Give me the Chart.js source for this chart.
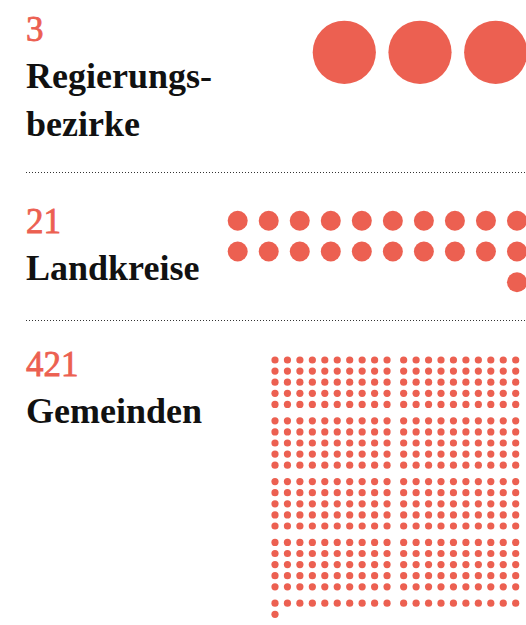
<!DOCTYPE html>
<html>
<head>
<meta charset="utf-8">
<script src="https://cdn.jsdelivr.net/npm/chart.js@4/dist/chart.umd.min.js"></script>
<style>
  html, body { margin: 0; padding: 0; background: #fff; }
  #wrap { position: relative; width: 526px; height: 625px; overflow: hidden; }
  canvas { position: absolute; left: 0; }
  .num { position: absolute; left: 26px; font-family: "Liberation Serif", "Times New Roman", serif; font-size: 35px; line-height: 35px; color: #ec6051; white-space: nowrap; -webkit-text-stroke: 0.8px #ec6051; }
  .lab { position: absolute; left: 26px; font-family: "Liberation Serif", "Times New Roman", serif; font-weight: bold; font-size: 36px; line-height: 48px; color: #111; white-space: pre; }
  .sep { position: absolute; left: 26px; width: 500px; height: 1px; background-image: linear-gradient(to right, #333 1px, transparent 1px); background-size: 3px 1px; }
</style>
</head>
<body>
<div id="wrap">
  <div class="num" id="n0" style="top:12px"></div>
  <div class="lab" id="l0" style="top:52px"></div>
  <div class="sep" style="top:172px"></div>
  <div class="num" id="n1" style="top:204px"></div>
  <div class="lab" id="l1" style="top:244px"></div>
  <div class="sep" style="top:320px"></div>
  <div class="num" id="n2" style="top:347px"></div>
  <div class="lab" id="l2" style="top:387px"></div>
  <canvas id="c0" width="526" height="110" style="top:0px"></canvas>
  <canvas id="c1" width="526" height="120" style="top:190px"></canvas>
  <canvas id="c2" width="526" height="285" style="top:340px"></canvas>
</div>
<script>
// ---- data ----
const counts = [3, 21, 421];
const labels = ["Regierungs-\nbezirke", "Landkreise", "Gemeinden"];
const dotsPerRow = [3, 10, 20];
const colsPerGroup = [3, 10, 10];
const rowsPerGroup = [1, 5, 5];
const lastRowAlign = ["left", "right", "left"];
const dotColor = "#ec6051";

// ---- layout (pixels) ----
const layout = [
  { x0: 344.3, ux: 75.7, y0: 52.3, uy: 75.7, r: 31.6, gx: 0, gy: 0 },
  { x0: 237.7, ux: 31.03, y0: 30.7, uy: 30.8, r: 10, gx: 0, gy: 0 },
  { x0: 275, ux: 12.45, y0: 20, uy: 11.1, r: 3.6, gx: 4.15, gy: 5.3 }
];

counts.forEach((n, k) => {
  document.getElementById('n' + k).textContent = String(n);
  document.getElementById('l' + k).textContent = labels[k];
});

function buildPoints(k) {
  const L = layout[k];
  const pts = [];
  const per = dotsPerRow[k];
  const fullRows = Math.floor(counts[k] / per);
  const rest = counts[k] % per;
  for (let i = 0; i < counts[k]; i++) {
    let c = i % per;
    const r = Math.floor(i / per);
    if (r === fullRows && lastRowAlign[k] === "right") c += per - rest;
    pts.push({
      x: c + (L.gx / L.ux) * Math.floor(c / colsPerGroup[k]),
      y: r + (L.gy / L.uy) * Math.floor(r / rowsPerGroup[k])
    });
  }
  return pts;
}

counts.forEach((n, k) => {
  const cv = document.getElementById('c' + k);
  const L = layout[k];
  const W = cv.width, H = cv.height;
  const xmin = -L.x0 / L.ux, xmax = xmin + W / L.ux;
  const ymin = -L.y0 / L.uy, ymax = ymin + H / L.uy;
  new Chart(cv, {
    type: 'scatter',
    data: {
      datasets: [{
        data: buildPoints(k),
        backgroundColor: dotColor,
        borderWidth: 0,
        pointRadius: L.r,
        pointHoverRadius: L.r,
        clip: false
      }]
    },
    options: {
      responsive: false,
      animation: false,
      events: [],
      layout: { padding: 0, autoPadding: false },
      plugins: { legend: { display: false }, tooltip: { enabled: false } },
      scales: {
        x: { type: 'linear', display: false, min: xmin, max: xmax },
        y: { type: 'linear', display: false, min: ymin, max: ymax, reverse: true }
      }
    }
  });
});
</script>
</body>
</html>
